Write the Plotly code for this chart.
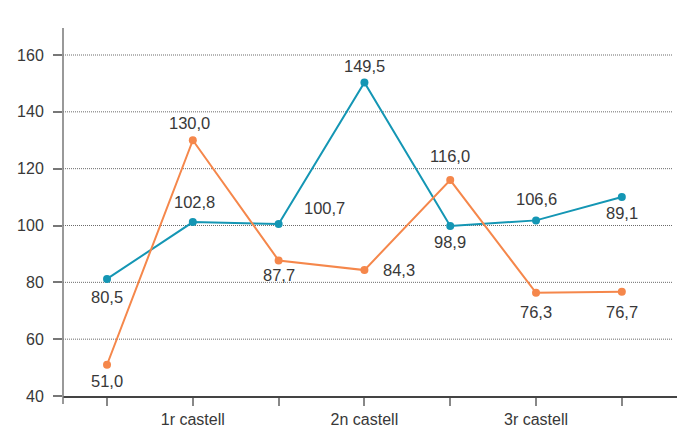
import plotly.graph_objects as go

# ---- data ----
x_idx = [0, 1, 2, 3, 4, 5, 6]
tick_text = ["", "1r castell", "", "2n castell", "", "3r castell", ""]
blue_values = [81.2, 101.2, 100.5, 150.3, 99.8, 101.8, 110.0]
blue_labels = ["80,5", "102,8", "100,7", "149,5", "98,9", "106,6", "89,1"]
orange_values = [51.0, 130.0, 87.7, 84.3, 116.0, 76.3, 76.7]
orange_labels = ["51,0", "130,0", "87,7", "84,3", "116,0", "76,3", "76,7"]
y_ticks = [40, 60, 80, 100, 120, 140, 160]

# ---- styles ----
BLUE = "#1496b4"
ORANGE = "#f5874b"
TEXT = "#383838"
FONT = "Liberation Sans"
blue_shift = [(0, -18), (2, 20), (46, 16), (0, 17), (0, -16), (0, 21), (0, -16)]
orange_shift = [(0, -16), (-3, 17), (0, -15), (35, 0), (0, 24), (0, -19), (0, -20)]

fig = go.Figure()

# dotted horizontal gridlines (stop a little short of the right end of the x axis)
for yv in y_ticks[1:]:
    fig.add_shape(type="line", xref="paper", yref="y", x0=0, x1=0.992, y0=yv, y1=yv,
                  line=dict(color="#6a6a6a", width=1, dash="1px,1px"), layer="below")

fig.add_trace(go.Scatter(x=x_idx, y=blue_values, mode="lines+markers",
                         line=dict(color=BLUE, width=2),
                         marker=dict(color=BLUE, size=8), hoverinfo="skip"))
fig.add_trace(go.Scatter(x=x_idx, y=orange_values, mode="lines+markers",
                         line=dict(color=ORANGE, width=2),
                         marker=dict(color=ORANGE, size=8), hoverinfo="skip"))

anns = []
for xs, vals, labs, shifts in [(x_idx, blue_values, blue_labels, blue_shift),
                                (x_idx, orange_values, orange_labels, orange_shift)]:
    for xi, v, lab, (dx, dy) in zip(xs, vals, labs, shifts):
        anns.append(dict(x=xi, y=v, xref="x", yref="y", text=lab, showarrow=False,
                         xshift=dx, yshift=dy,
                         font=dict(family=FONT, size=16.5, color=TEXT)))

fig.update_layout(
    width=691, height=445,
    margin=dict(l=63, r=14, t=28, b=49),
    paper_bgcolor="white", plot_bgcolor="white",
    showlegend=False,
    annotations=anns,
    font=dict(family=FONT, size=16, color=TEXT),
    xaxis=dict(range=[-0.513, 6.643], tickmode="array", tickvals=x_idx,
               ticktext=tick_text, showgrid=False, zeroline=False,
               showline=True, linecolor="#444", linewidth=1.5,
               ticks="outside", ticklen=8, tickcolor="#888", tickwidth=1.5,
               tickfont=dict(family=FONT, size=16, color=TEXT), fixedrange=True),
    yaxis=dict(range=[40, 169.5], tickmode="array", tickvals=y_ticks,
               showgrid=False, zeroline=False, showline=False,
               ticks="outside", ticklen=9, tickcolor="#777", tickwidth=1.5,
               ticklabelstandoff=6,
               tickfont=dict(family=FONT, size=16, color=TEXT), fixedrange=True),
)
# vertical axis line extending slightly below the baseline
fig.add_shape(type="line", xref="paper", yref="paper", x0=0, x1=0, y0=-0.022, y1=1,
              line=dict(color="#777", width=1.5))

fig.write_html("out.html", post_script="document.body.style.margin='0';",
               config={"displayModeBar": False})
